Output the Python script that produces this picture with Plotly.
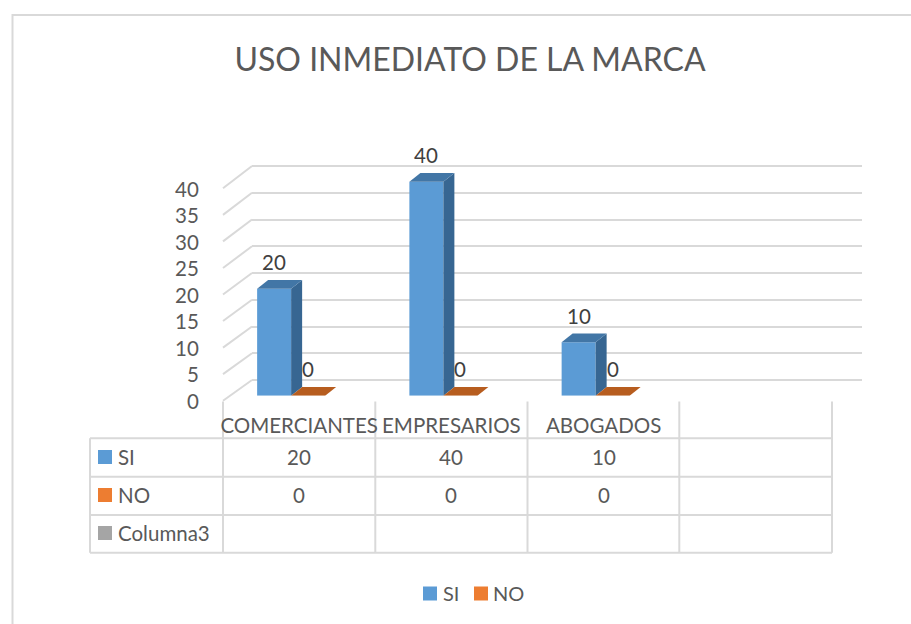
import plotly.graph_objects as go

# ---- data ----
categories = ["COMERCIANTES", "EMPRESARIOS", "ABOGADOS"]
si_values = [20, 40, 10]
no_values = [0, 0, 0]
value_ticks = [0, 5, 10, 15, 20, 25, 30, 35, 40]
table_rows = ["SI", "NO", "Columna3"]
title_text = "USO INMEDIATO DE LA MARCA"

# ---- page geometry ----
W, H = 911, 624
FONT = "Lato, Carlito, Calibri, sans-serif"
C_TEXT = "#595959"
C_LABEL = "#404040"
C_GRID = "#D9D9D9"
C_SI, C_SI_SIDE, C_SI_TOP = "#5B9BD5", "#376692", "#4276A6"
C_NO, C_NO_TOP = "#ED7D31", "#B75D1F"
C_GREY = "#A5A5A5"

def px(x): return x / W
def py(y): return 1 - y / H

SLOT = 152.25
FRONT_L, FRONT_R = 223, 832
BASE, UNIT = 395.7, 5.35
Y_TOP_VAL = 45
BAR_W = 34 / SLOT
SI_OFF = (257 - 299) / SLOT
NO_OFF = SI_OFF + BAR_W
DX, DY = 11 / SLOT, 8.7 / UNIT         # depth of a bar, in axis units
xs = list(range(len(categories)))

fig = go.Figure()

# back wall: carries the horizontal gridlines
fig.add_trace(go.Scatter(x=[0, 1], y=[0, 40], xaxis="x", yaxis="y", mode="markers",
                         marker=dict(opacity=0), hoverinfo="skip", showlegend=False))

# front faces
fig.add_trace(go.Bar(x=xs, y=si_values, name="SI", xaxis="x2", yaxis="y2", width=BAR_W,
                     offset=SI_OFF, marker=dict(color=C_SI, line=dict(width=0)), showlegend=False))
fig.add_trace(go.Bar(x=xs, y=no_values, name="NO", xaxis="x2", yaxis="y2", width=BAR_W,
                     offset=NO_OFF, marker=dict(color=C_NO, line=dict(width=0)), showlegend=False))

def face(xv, yv, color):
    fig.add_trace(go.Scatter(x=xv, y=yv, xaxis="x2", yaxis="y2", mode="lines", fill="toself",
                             fillcolor=color, line=dict(width=0), hoverinfo="skip", showlegend=False))

# 3-D side and top faces, derived from the values
for i, v in zip(xs, si_values):
    l, r = i + SI_OFF, i + SI_OFF + BAR_W
    face([r, r + DX, r + DX, r, r], [0, DY, v + DY, v, 0], C_SI_SIDE)
    face([l, r, r + DX, l + DX, l], [v, v, v + DY, v + DY, v], C_SI_TOP)
for i, v in zip(xs, no_values):
    l, r = i + NO_OFF, i + NO_OFF + BAR_W
    face([l, r, r + DX, l + DX, l], [v, v, v + DY, v + DY, v], C_NO_TOP)

# value axis at the front edge
fig.add_trace(go.Scatter(x=[0, 1], y=[0, 40], xaxis="x2", yaxis="y3", mode="markers",
                         marker=dict(opacity=0), hoverinfo="skip", showlegend=False))

shapes, annotations = [], []

def line(x0, y0, x1, y1, width=2):
    shapes.append(dict(type="line", xref="paper", yref="paper", x0=px(x0), y0=py(y0), x1=px(x1), y1=py(y1),
                       line=dict(color=C_GRID, width=width), layer="below"))

# chart border: only the top and left edges are inside the picture
line(12, 15, 911, 15)
line(12.5, 14, 12.5, 624)

# wall diagonals
for t in value_ticks:
    f = 400.7 - t * 5.31
    b = 380 - t * 5.35
    line(FRONT_L, f, 252, b, 2)

# data table grid
TABLE_Y = [438.3, 476.7, 515, 552.7]
TABLE_X = [223, 375.3, 527.5, 679.3, 832]
for y in TABLE_Y:
    line(90, y, 832, y)
line(90, TABLE_Y[0], 90, TABLE_Y[-1])
for x in TABLE_X:
    line(x, 401.5, x, TABLE_Y[-1])

def text(x, y, s, size=20.5, color=C_TEXT, xref="paper", anchor="center", yshift=0):
    annotations.append(dict(x=x, y=y, xref=xref, yref="paper", text=s, showarrow=False, xanchor=anchor,
                            yanchor="middle", yshift=yshift, xshift=0, font=dict(family=FONT, size=size, color=color)))

def swatch(x, y, color):
    shapes.append(dict(type="rect", xref="paper", yref="paper", x0=px(x), x1=px(x + 14), y0=py(y - 7), y1=py(y + 7),
                       fillcolor=color, line=dict(width=0)))

# table rows
row_colors = [C_SI, C_NO, C_GREY]
row_values = [si_values, no_values]
row_y = [457, 495, 533]
for name, col, y in zip(table_rows, row_colors, row_y):
    swatch(98, y, col)
    text(px(116), py(y - 0.5), name, anchor="left")
for vals, y in zip(row_values, row_y):
    for i, v in zip(xs, vals):
        text(i, py(y - 0.5), str(v), xref="x2")

# data labels above each bar
for vals, off in ((si_values, SI_OFF), (no_values, NO_OFF)):
    for i, v in zip(xs, vals):
        annotations.append(dict(x=i + off + BAR_W / 2, y=v, xref="x2", yref="y2", text=str(v), showarrow=False,
                                yshift=26.5, font=dict(family=FONT, size=20.5, color=C_LABEL)))

# legend
swatch(423, 593.5, C_SI)
text(px(441), py(593), "SI", anchor="left", size=20)
swatch(474, 593.5, C_NO)
text(px(491), py(593), "NO", anchor="left", size=20)

fig.update_layout(
    width=W, height=H, margin=dict(l=0, r=0, t=0, b=0, pad=0, autoexpand=False),
    paper_bgcolor="white", plot_bgcolor="rgba(0,0,0,0)", showlegend=False, barmode="overlay",
    title=dict(text=title_text, x=470 / W, xanchor="center", y=py(59.5), yanchor="middle",
               font=dict(family=FONT, size=32, color=C_TEXT)),
    xaxis=dict(domain=[px(252), px(862)], range=[0, 1], visible=False, fixedrange=True),
    yaxis=dict(domain=[py(380), py(380 - 41 * 5.35)], range=[0, 41], tickvals=value_ticks, showticklabels=False,
               showgrid=True, gridcolor=C_GRID, gridwidth=2, zeroline=True, zerolinecolor=C_GRID, zerolinewidth=2,
               showline=False, ticks="", fixedrange=True, anchor="x"),
    xaxis2=dict(domain=[px(FRONT_L), px(FRONT_R)], range=[-0.5, 3.5], anchor="y2", tickmode="array", tickvals=xs,
                ticktext=categories, ticks="outside", ticklen=12, tickcolor="rgba(0,0,0,0)", showgrid=False,
                zeroline=False, showline=False, tickangle=0, fixedrange=True,
                tickfont=dict(family=FONT, size=20.5, color=C_TEXT)),
    yaxis2=dict(domain=[py(BASE), py(BASE - Y_TOP_VAL * UNIT)], range=[0, Y_TOP_VAL], visible=False,
                anchor="x2", fixedrange=True),
    yaxis3=dict(domain=[py(401.5), py(189.5)], range=[0, 40], tickvals=value_ticks, anchor="x2", showgrid=False,
                zeroline=False, showline=False, ticks="outside", ticklen=19, tickcolor="rgba(0,0,0,0)", fixedrange=True,
                tickfont=dict(family=FONT, size=20.5, color=C_TEXT)),
    shapes=shapes, annotations=annotations,
)

fig.write_html("out.html", post_script="document.body.style.margin='0';", config=dict(displayModeBar=False))
